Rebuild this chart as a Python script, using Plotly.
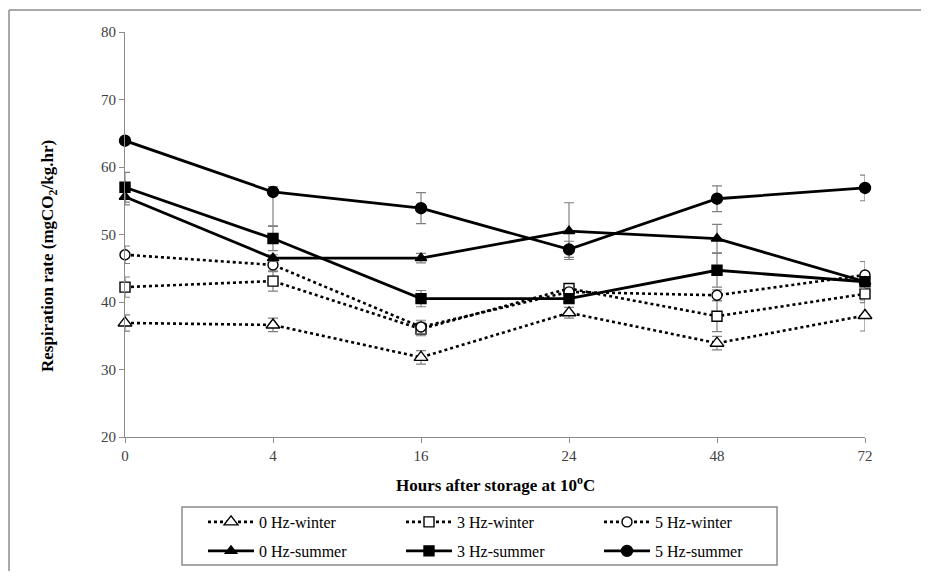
import plotly.graph_objects as go

hours = ["0", "4", "16", "24", "48", "72"]

w0 = [36.9, 36.6, 31.8, 38.4, 33.9, 38.0]
w0_err = [1.2, 1.0, 1.0, 0.8, 1.0, 2.3]
w3 = [42.2, 43.1, 36.0, 42.0, 37.9, 41.2]
w3_err = [1.5, 1.5, 1.0, 0.5, 2.3, 1.3]
w5 = [47.0, 45.5, 36.3, 41.5, 41.0, 44.0]
w5_err = [1.3, 1.0, 1.0, 0.5, 0.8, 2.0]

s0 = [55.6, 46.5, 46.5, 50.5, 49.4, 43.0]
s0_err = [1.2, 0.5, 0.7, 4.2, 2.1, 0.5]
s3 = [57.0, 49.4, 40.5, 40.5, 44.7, 43.0]
s3_err = [2.2, 1.8, 1.2, 0.5, 2.5, 0.5]
s5 = [63.9, 56.3, 53.9, 47.8, 55.3, 56.9]
s5_err_plus = [0.3, 0.8, 2.3, 1.2, 1.9, 1.9]
s5_err_minus = [0.3, 5.0, 2.3, 1.2, 1.9, 1.9]

names = ["0 Hz-winter", "3 Hz-winter", "5 Hz-winter",
         "0 Hz-summer", "3 Hz-summer", "5 Hz-summer"]

FONT = "Liberation Serif"
ERRC = "#808080"

fig = go.Figure()

def add(name, y, ep, em, symbol, size, dash, filled, leg):
    fig.add_trace(go.Scatter(
        x=hours, y=y, name=name, mode="lines+markers", legend=leg,
        line=dict(color="black", width=2.6 if not filled else 2.8, dash=dash),
        marker=dict(symbol=symbol, size=size,
                    color="black" if filled else "white",
                    line=dict(color="black", width=1.4)),
        error_y=dict(type="data", array=ep, arrayminus=em, symmetric=False,
                     color=ERRC, thickness=1.2, width=5),
        cliponaxis=False,
    ))

add(names[0], w0, w0_err, w0_err, "triangle-up", 12, "dot", False, "legend")
add(names[1], w3, w3_err, w3_err, "square", 10, "dot", False, "legend")
add(names[2], w5, w5_err, w5_err, "circle", 10, "dot", False, "legend")
add(names[3], s0, s0_err, s0_err, "triangle-up", 10, "solid", True, "legend2")
add(names[4], s3, s3_err, s3_err, "square", 10, "solid", True, "legend2")
add(names[5], s5, s5_err_plus, s5_err_minus, "circle", 11, "solid", True, "legend2")

OFF = 8  # page body margin
W, H = 929 - 2 * OFF, 579 - 2 * OFF
L = 125 - OFF
T = 32 - OFF
R = W - (865 - OFF)
B = H - (437 - OFF)
pw, ph = W - L - R, H - T - B

def px(x):
    return (x - OFF - L) / pw

def py(y):
    return (H - B - (y - OFF)) / ph

leg_common = dict(
    orientation="h", xanchor="left", yanchor="middle",
    entrywidth=137, entrywidthmode="pixels",
    borderwidth=0, bgcolor="rgba(0,0,0,0)",
    font=dict(family=FONT, size=16, color="black"),
    itemwidth=46, traceorder="normal",
)

BORDER = dict(color="#8c8c8c", width=1.5)

fig.update_layout(
    width=W, height=H,
    margin=dict(l=L, r=R, t=T, b=B, pad=0, autoexpand=False),
    paper_bgcolor="white", plot_bgcolor="white",
    font=dict(family=FONT, color="#404040", size=15),
    showlegend=True,
    legend=dict(x=px(203), y=py(522), **leg_common),
    legend2=dict(x=px(203), y=py(551), **leg_common),
    xaxis=dict(
        type="category", range=[0, 5], showgrid=False, zeroline=False,
        showline=True, linecolor="#8c8c8c", linewidth=1,
        ticks="outside", ticklen=5, tickcolor="#8c8c8c",
        tickfont=dict(family=FONT, size=15, color="#404040"),
    ),
    yaxis=dict(
        range=[20, 80], dtick=10, showgrid=False, zeroline=False,
        showline=True, linecolor="#8c8c8c", linewidth=1,
        ticks="outside", ticklen=5, tickcolor="#8c8c8c",
        tickfont=dict(family=FONT, size=15, color="#404040"),
    ),
    annotations=[
        dict(text="<b>Hours after storage at 10<sup>o</sup>C</b>",
             xref="paper", yref="paper", x=px(495), y=py(484),
             xanchor="center", yanchor="middle", showarrow=False,
             font=dict(family=FONT, size=17, color="black")),
        dict(text="<b>Respiration rate (mgCO<sub>2</sub>/kg.hr)</b>",
             xref="paper", yref="paper", x=px(49), y=py(256),
             xanchor="center", yanchor="middle", showarrow=False, textangle=-90,
             font=dict(family=FONT, size=17, color="black")),
    ],
    shapes=[
        dict(type="line", xref="paper", yref="paper",
             x0=px(9), y0=py(10), x1=px(929), y1=py(10),
             line=BORDER, layer="below"),
        dict(type="line", xref="paper", yref="paper",
             x0=px(9), y0=py(10), x1=px(9), y1=py(579),
             line=BORDER, layer="below"),
        dict(type="rect", xref="paper", yref="paper",
             x0=px(182), y0=py(507), x1=px(777), y1=py(565),
             line=BORDER, fillcolor="white", layer="below"),
    ],
)

fig.write_html("out.html")
